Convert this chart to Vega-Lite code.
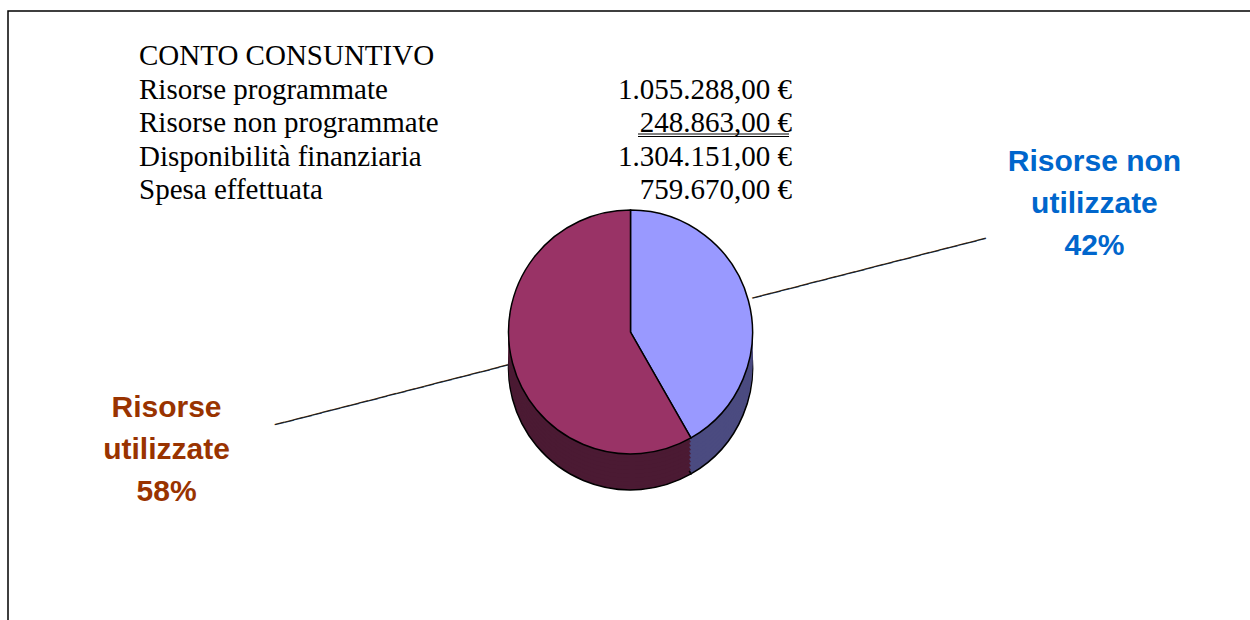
{
  "$schema": "https://vega.github.io/schema/vega-lite/v6.json",
  "width": 1250,
  "height": 620,
  "autosize": {"type": "fit", "contains": "padding"},
  "padding": {"left": 8, "top": 11, "right": -3, "bottom": -3},
  "background": "white",
  "config": {
    "view": {"stroke": "#000000", "strokeWidth": 1.5},
    "locale": {"number": {"decimal": ",", "thousands": ".", "grouping": [3], "currency": ["", " €"]}}
  },
  "datasets": {
    "conto": [
      {"riga": 1, "voce": "CONTO CONSUNTIVO", "importo": null},
      {"riga": 2, "voce": "Risorse programmate", "importo": 1055288},
      {"riga": 3, "voce": "Risorse non programmate", "importo": 248863},
      {"riga": 4, "voce": "Disponibilità finanziaria", "importo": 1304151},
      {"riga": 5, "voce": "Spesa effettuata", "importo": 759670}
    ],
    "torta": [
      {"categoria": "Risorse non utilizzate", "valore": 544481, "etichetta": "Risorse non\nutilizzate\n42%"},
      {"categoria": "Risorse utilizzate", "valore": 759670, "etichetta": "Risorse\nutilizzate\n58%"}
    ]
  },
  "resolve": {"scale": {"color": "independent"}},
  "layer": [
    {"data": {"name": "torta"}, "mark": {"type": "arc", "outerRadius": 122, "yOffset": 51, "stroke": "#000", "strokeWidth": 1.5},
     "encoding": {"theta": {"field": "valore", "type": "quantitative", "stack": true},
       "color": {"field": "categoria", "type": "nominal", "scale": {"domain": ["Risorse non utilizzate", "Risorse utilizzate"], "range": ["#4B4B80", "#4B1A33"]}, "legend": null}}},
    {"data": {"name": "torta"}, "mark": {"type": "arc", "outerRadius": 122, "yOffset": 47},
     "encoding": {"theta": {"field": "valore", "type": "quantitative", "stack": true},
       "color": {"field": "categoria", "type": "nominal", "scale": {"domain": ["Risorse non utilizzate", "Risorse utilizzate"], "range": ["#4B4B80", "#4B1A33"]}, "legend": null}}},
    {"data": {"name": "torta"}, "mark": {"type": "arc", "outerRadius": 122, "yOffset": 43},
     "encoding": {"theta": {"field": "valore", "type": "quantitative", "stack": true},
       "color": {"field": "categoria", "type": "nominal", "scale": {"domain": ["Risorse non utilizzate", "Risorse utilizzate"], "range": ["#4B4B80", "#4B1A33"]}, "legend": null}}},
    {"data": {"name": "torta"}, "mark": {"type": "arc", "outerRadius": 122, "yOffset": 39},
     "encoding": {"theta": {"field": "valore", "type": "quantitative", "stack": true},
       "color": {"field": "categoria", "type": "nominal", "scale": {"domain": ["Risorse non utilizzate", "Risorse utilizzate"], "range": ["#4B4B80", "#4B1A33"]}, "legend": null}}},
    {"data": {"name": "torta"}, "mark": {"type": "arc", "outerRadius": 122, "yOffset": 35},
     "encoding": {"theta": {"field": "valore", "type": "quantitative", "stack": true},
       "color": {"field": "categoria", "type": "nominal", "scale": {"domain": ["Risorse non utilizzate", "Risorse utilizzate"], "range": ["#4B4B80", "#4B1A33"]}, "legend": null}}},
    {"data": {"name": "torta"}, "mark": {"type": "arc", "outerRadius": 122, "yOffset": 31},
     "encoding": {"theta": {"field": "valore", "type": "quantitative", "stack": true},
       "color": {"field": "categoria", "type": "nominal", "scale": {"domain": ["Risorse non utilizzate", "Risorse utilizzate"], "range": ["#4B4B80", "#4B1A33"]}, "legend": null}}},
    {"data": {"name": "torta"}, "mark": {"type": "arc", "outerRadius": 122, "yOffset": 27},
     "encoding": {"theta": {"field": "valore", "type": "quantitative", "stack": true},
       "color": {"field": "categoria", "type": "nominal", "scale": {"domain": ["Risorse non utilizzate", "Risorse utilizzate"], "range": ["#4B4B80", "#4B1A33"]}, "legend": null}}},
    {"data": {"name": "torta"}, "mark": {"type": "arc", "outerRadius": 122, "yOffset": 23},
     "encoding": {"theta": {"field": "valore", "type": "quantitative", "stack": true},
       "color": {"field": "categoria", "type": "nominal", "scale": {"domain": ["Risorse non utilizzate", "Risorse utilizzate"], "range": ["#4B4B80", "#4B1A33"]}, "legend": null}}},
    {"data": {"name": "torta"}, "mark": {"type": "arc", "outerRadius": 122, "yOffset": 19},
     "encoding": {"theta": {"field": "valore", "type": "quantitative", "stack": true},
       "color": {"field": "categoria", "type": "nominal", "scale": {"domain": ["Risorse non utilizzate", "Risorse utilizzate"], "range": ["#4B4B80", "#4B1A33"]}, "legend": null}}},
    {"data": {"name": "torta"}, "mark": {"type": "arc", "outerRadius": 122, "yOffset": 15, "stroke": "#000", "strokeWidth": 1.5},
     "encoding": {"theta": {"field": "valore", "type": "quantitative", "stack": true},
       "color": {"field": "categoria", "type": "nominal", "scale": {"domain": ["Risorse non utilizzate", "Risorse utilizzate"], "range": ["#9999FF", "#993366"]}, "legend": null}}},
    {"data": {"name": "torta"}, "mark": {"type": "text", "radius": 247, "yOffset": 15, "angle": -14.4, "font": "DejaVu Sans Mono", "fontSize": 16, "align": "center", "baseline": "middle", "color": "#222222", "text": "─────────────────────────"},
     "encoding": {"theta": {"field": "valore", "type": "quantitative", "stack": true},
       "detail": {"field": "categoria", "type": "nominal"}}},
    {"data": {"name": "torta"}, "mark": {"type": "text", "radius": 480, "yOffset": -32, "font": "Liberation Sans", "fontWeight": "bold", "fontSize": 30, "lineBreak": "\n", "lineHeight": 42, "align": "center", "baseline": "middle"},
     "encoding": {"theta": {"field": "valore", "type": "quantitative", "stack": true},
       "text": {"field": "etichetta", "type": "nominal"},
       "color": {"field": "categoria", "type": "nominal", "scale": {"domain": ["Risorse non utilizzate", "Risorse utilizzate"], "range": ["#0066CC", "#993300"]}, "legend": null}}},
    {"data": {"name": "conto"}, "mark": {"type": "text", "font": "Liberation Serif", "fontSize": 29, "align": "left", "baseline": "alphabetic", "color": "#000"},
     "encoding": {
       "x": {"datum": "voce", "type": "nominal", "scale": {"type": "point", "domain": ["voce", "importo"], "range": [131, 784], "padding": 0}, "axis": null},
       "y": {"field": "riga", "type": "ordinal", "scale": {"type": "point", "range": [54, 188], "padding": 0}, "axis": null},
       "text": {"field": "voce", "type": "nominal"}}},
    {"data": {"name": "conto"}, "transform": [{"filter": "isValid(datum.importo)"}],
     "mark": {"type": "text", "font": "Liberation Serif", "fontSize": 29, "align": "right", "baseline": "alphabetic", "color": "#000"},
     "encoding": {
       "x": {"datum": "importo", "type": "nominal"},
       "y": {"field": "riga", "type": "ordinal"},
       "text": {"field": "importo", "type": "quantitative", "format": "$,.2f"}}},
    {"data": {"name": "conto"}, "transform": [{"filter": "datum.voce === 'Risorse non programmate'"}],
     "mark": {"type": "rule", "color": "#000", "strokeWidth": 1, "xOffset": -154, "x2Offset": -3, "yOffset": 2},
     "encoding": {
       "x": {"datum": "importo", "type": "nominal"},
       "x2": {"datum": "importo"},
       "y": {"field": "riga", "type": "ordinal"}}},
    {"data": {"name": "conto"}, "transform": [{"filter": "datum.voce === 'Risorse non programmate'"}],
     "mark": {"type": "rule", "color": "#000", "strokeWidth": 1, "xOffset": -154, "x2Offset": -3, "yOffset": 4.5},
     "encoding": {
       "x": {"datum": "importo", "type": "nominal"},
       "x2": {"datum": "importo"},
       "y": {"field": "riga", "type": "ordinal"}}}
  ]
}
